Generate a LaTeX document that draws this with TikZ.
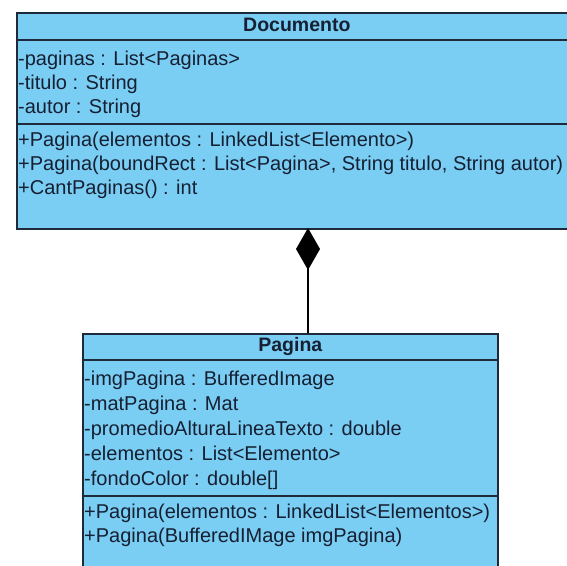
\documentclass[tikz,border=0pt]{standalone}
\usepackage{fontspec}
\setmainfont{Liberation Sans}
\usetikzlibrary{arrows.meta}
\definecolor{umlfill}{RGB}{122,205,243}
\definecolor{umlline}{RGB}{30,42,58}
\definecolor{umltext}{RGB}{22,32,50}
\tikzset{
  compart/.style={draw=umlline, fill=umlfill, line width=1.6pt, anchor=north west, inner sep=0pt},
  member/.style={anchor=west, inner sep=0pt, text=umltext, font=\fontsize{20}{24}\selectfont, text height=14pt, text depth=4pt},
  classname/.style={member, anchor=center, font=\fontsize{19.5}{24}\selectfont\bfseries},
  compose/.style={line width=1.5pt, draw=black, -{Diamond[length=42pt, width=24pt, fill=black]}}
}
\begin{document}
\begin{tikzpicture}[x=1pt, y=-1pt]
\useasboundingbox (0,0) rectangle (567,565);
\clip (0,0) rectangle (567,565);
% Documento
\node[compart, minimum width=560pt, minimum height=27pt] (docHead) at (16,12) {};
\node[compart, minimum width=560pt, minimum height=84pt] (docAttr) at (16,39) {};
\node[compart, minimum width=560pt, minimum height=105pt] (docMeth) at (16,123) {};
\node[classname] (docName) at (docHead.center) {Documento};
\foreach \txt [count=\i] in {{-paginas : List<Paginas>}, {-titulo : String}, {-autor : String}}
  \node[member] (docA\i) at (18, {60+24*(\i-1)}) {\txt};
\foreach \txt [count=\i] in {{+Pagina(elementos : LinkedList<Elemento>)},
    {+Pagina(boundRect : List<Pagina>, String titulo, String autor)},
    {+CantPaginas() : int}}
  \node[member] (docM\i) at (18, {141+24*(\i-1)}) {\txt};
% Pagina
\node[compart, minimum width=415pt, minimum height=26pt] (pagHead) at (82,333) {};
\node[compart, minimum width=415pt, minimum height=136pt] (pagAttr) at (82,359) {};
\node[compart, minimum width=415pt, minimum height=100pt] (pagMeth) at (82,495) {};
\node[classname] (pagName) at (pagHead.center) {Pagina};
\foreach \txt [count=\i] in {{-imgPagina : BufferedImage}, {-matPagina : Mat},
    {-promedioAlturaLineaTexto : double}, {-elementos : List<Elemento>},
    {-fondoColor : double[]}}
  \node[member] (pagA\i) at (84, {380+25*(\i-1)}) {\txt};
\foreach \txt [count=\i] in {{+Pagina(elementos : LinkedList<Elementos>)},
    {+Pagina(BufferedIMage imgPagina)}}
  \node[member] (pagM\i) at (84, {513+24*(\i-1)}) {\txt};
% composicion
\coordinate (joint) at (308,228);
\draw[compose] (pagHead.north -| joint) -- (joint);
\end{tikzpicture}
\end{document}
